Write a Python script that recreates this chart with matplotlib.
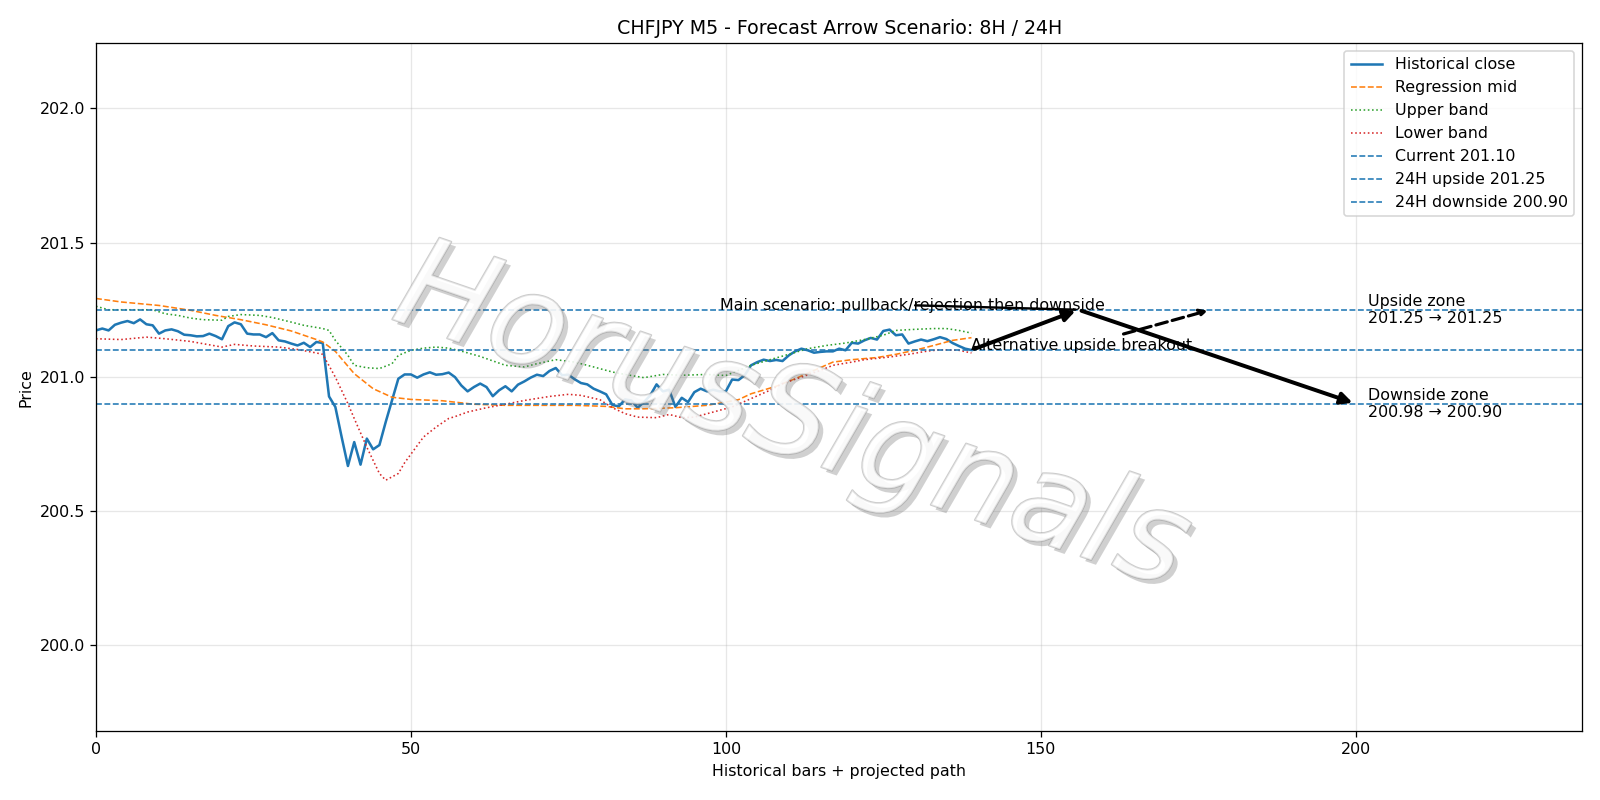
import numpy as np
import matplotlib.pyplot as plt
import matplotlib.patheffects as pe


# исторические закрытия (бары 0..139)
close = [
    201.173, 201.180, 201.173, 201.194, 201.202, 201.208, 201.200, 201.214, 201.196, 201.192,
    201.161, 201.173, 201.177, 201.170, 201.157, 201.155, 201.151, 201.152, 201.161, 201.152,
    201.140, 201.189, 201.203, 201.196, 201.161, 201.158, 201.158, 201.148, 201.163, 201.136,
    201.132, 201.124, 201.117, 201.127, 201.111, 201.130, 201.126, 200.927, 200.888, 200.776,
    200.668, 200.757, 200.673, 200.770, 200.730, 200.746, 200.832, 200.912, 200.993, 201.009,
    201.009, 200.997, 201.009, 201.017, 201.008, 201.010, 201.016, 200.999, 200.968, 200.946,
    200.962, 200.975, 200.962, 200.928, 200.950, 200.965, 200.946, 200.971, 200.983, 200.997,
    201.008, 201.003, 201.022, 201.033, 201.006, 201.008, 200.991, 200.977, 200.972, 200.956,
    200.946, 200.935, 200.895, 200.890, 200.916, 200.912, 200.885, 200.906, 200.931, 200.972,
    200.946, 200.952, 200.888, 200.922, 200.906, 200.943, 200.956, 200.946, 200.952, 200.946,
    200.946, 200.990, 200.988, 201.006, 201.043, 201.055, 201.064, 201.059, 201.063, 201.059,
    201.080, 201.095, 201.105, 201.099, 201.090, 201.093, 201.095, 201.095, 201.105, 201.099,
    201.127, 201.124, 201.136, 201.145, 201.139, 201.171, 201.176, 201.155, 201.158, 201.124,
    201.132, 201.139, 201.133, 201.140, 201.148, 201.141, 201.126, 201.115, 201.105, 201.100,
]

# средняя линия регрессии
mid_x = [0, 4, 10, 15, 19, 23, 27, 31, 35, 36, 38, 41, 44, 47, 50, 55, 60, 65, 76, 81,
         84, 87, 92, 97, 100, 102, 104, 108, 111, 114, 117, 120, 124, 127, 130, 133, 136, 139]
mid_y = [201.292, 201.279, 201.266, 201.248, 201.229, 201.213, 201.194, 201.171, 201.139, 201.130,
         201.095, 201.012, 200.956, 200.924, 200.916, 200.911, 200.898, 200.894, 200.894, 200.890,
         200.881, 200.881, 200.885, 200.894, 200.906, 200.915, 200.937, 200.965, 200.993, 201.024,
         201.055, 201.064, 201.072, 201.084, 201.099, 201.117, 201.136, 201.146]

# верхняя граница
up_x = [0, 2, 9, 11, 13, 15, 17, 20, 21, 23, 26, 28, 31, 33, 36, 37, 38, 40, 41, 43,
        45, 47, 48, 50, 52, 54, 56, 58, 61, 65, 68, 70, 73, 76, 79, 82, 84, 87, 90, 93,
        97, 100, 102, 104, 107, 110, 113, 116, 119, 122, 125, 127, 130, 133, 135, 137, 139]
up_y = [201.263, 201.250, 201.250, 201.235, 201.229, 201.219, 201.213, 201.211, 201.225, 201.232,
        201.229, 201.221, 201.204, 201.192, 201.180, 201.173, 201.136, 201.080, 201.043, 201.034,
        201.031, 201.049, 201.080, 201.099, 201.107, 201.111, 201.107, 201.096, 201.076, 201.043,
        201.037, 201.049, 201.064, 201.055, 201.037, 201.018, 201.009, 200.997, 201.009, 201.006,
        201.009, 201.005, 201.024, 201.043, 201.064, 201.084, 201.105, 201.117, 201.126, 201.139,
        201.155, 201.173, 201.177, 201.180, 201.180, 201.173, 201.163]

# нижняя граница
lo_x = [0, 4, 8, 11, 15, 20, 22, 25, 29, 32, 35, 36, 38, 40, 41, 43, 45, 46, 48, 49,
        52, 54, 56, 57, 59, 62, 65, 68, 72, 75, 77, 80, 82, 84, 86, 89, 91, 93, 95, 98,
        101, 104, 107, 109, 112, 115, 117, 120, 122, 126, 129, 132, 134, 137, 139]
lo_y = [201.142, 201.139, 201.148, 201.142, 201.132, 201.111, 201.121, 201.115, 201.111, 201.102,
        201.089, 201.084, 200.999, 200.900, 200.845, 200.738, 200.640, 200.615, 200.640, 200.680,
        200.776, 200.813, 200.845, 200.852, 200.869, 200.885, 200.898, 200.912, 200.927, 200.935,
        200.931, 200.915, 200.885, 200.863, 200.850, 200.848, 200.860, 200.848, 200.850, 200.869,
        200.888, 200.919, 200.950, 200.975, 200.999, 201.024, 201.043, 201.055, 201.064, 201.074,
        201.084, 201.096, 201.101, 201.099, 201.089]

# уровни и сценарий
current = 201.10
upside = 201.25
downside = 200.90
last_x = 139
pivot_x = 156
alt_x = 177
target_x = 200
zone_x = 202
main_label = "Main scenario: pullback/rejection then downside"
alt_label = "Alternative upside breakout"
up_zone = "Upside zone\n201.25 \u2192 201.25"
down_zone = "Downside zone\n200.98 \u2192 200.90"

fig, ax = plt.subplots(figsize=(14, 7), dpi=1600 / 14)
fig.subplots_adjust(left=0.06, right=0.989, bottom=0.086, top=0.946)

t = np.arange(len(close))
ax.plot(t, close, color='C0', lw=1.6, label='Historical close')
ax.plot(mid_x, mid_y, '--', color='C1', lw=1.0, label='Regression mid')
ax.plot(up_x, up_y, ':', color='C2', lw=1.0, label='Upper band')
ax.plot(lo_x, lo_y, ':', color='C3', lw=1.0, label='Lower band')

ax.axhline(current, ls='--', color='C0', lw=1.0, label=f'Current {current:.2f}')
ax.axhline(upside, ls='--', color='C0', lw=1.0, label=f'24H upside {upside:.2f}')
ax.axhline(downside, ls='--', color='C0', lw=1.0, label=f'24H downside {downside:.2f}')

# стрелки сценария
arrow = dict(arrowstyle='-|>', lw=2.5, color='black', mutation_scale=15)
ax.annotate('', xy=(pivot_x, upside), xytext=(last_x, current), arrowprops=arrow)
ax.annotate('', xy=(target_x, downside), xytext=(pivot_x, upside), arrowprops=arrow)
ax.annotate(main_label, xy=(pivot_x, upside), xytext=(last_x - 40, upside),
            arrowprops=dict(arrowstyle='-', lw=1.5, color='black'))
ax.annotate(alt_label, xy=(alt_x, upside), xytext=(last_x, current),
            arrowprops=dict(arrowstyle='->', lw=2, ls='--', color='black'))

ax.text(zone_x, upside, up_zone, va='center')
ax.text(zone_x, downside, down_zone, va='center')

ax.set_xlim(0, 236)
ax.set_ylim(199.68, 202.243)
ax.grid(True, alpha=0.3)
ax.set_title('CHFJPY M5 - Forecast Arrow Scenario: 8H / 24H')
ax.set_xlabel('Historical bars + projected path')
ax.set_ylabel('Price')
ax.legend(loc='upper right')

# водяной знак
fig.text(0.495, 0.475, 'HorusSignals', fontsize=80, style='italic', color='white', alpha=0.5,
         rotation=-19, ha='center', va='center',
         path_effects=[pe.withSimplePatchShadow(offset=(3, -3), shadow_rgbFace='#666666', alpha=0.3),
                       pe.Stroke(linewidth=1.2, foreground='#999999'),
                       pe.Normal()])

plt.savefig('out.png')
